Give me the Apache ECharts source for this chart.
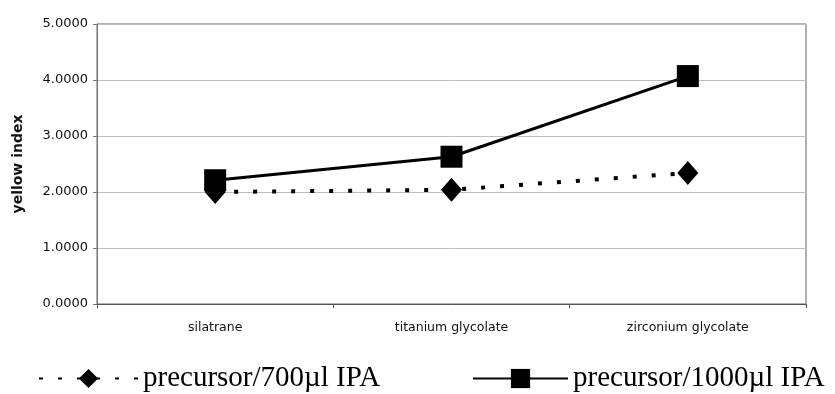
<!DOCTYPE html>
<html>
<head>
<meta charset="utf-8">
<script src="https://cdn.jsdelivr.net/npm/echarts@6/dist/echarts.min.js"></script>
<style>
  html, body { margin: 0; padding: 0; background: #fff; }
  #chart { width: 835px; height: 394px; }
</style>
</head>
<body>
<div id="chart"></div>
<script>
// Precursor types on the x axis
const categories = ['silatrane', 'titanium glycolate', 'zirconium glycolate'];
// Yellow index for each precursor amount
const ipa700 = [2.00, 2.04, 2.34];
const ipa1000 = [2.21, 2.63, 4.07];
const seriesNames = ['precursor/700\u00b5l IPA', 'precursor/1000\u00b5l IPA'];
const yTicks = { min: 0, max: 5, interval: 1 };

const chart = echarts.init(document.getElementById('chart'), null, { renderer: 'canvas' });

const legendText = { fontFamily: 'Liberation Serif', fontSize: 29, color: '#000' };

chart.setOption({
  animation: false,
  backgroundColor: '#fff',
  grid: {
    left: 97, right: 29, top: 24, bottom: 90,
    show: true, borderColor: '#666', borderWidth: 1
  },
  legend: [
    {
      data: [seriesNames[0]], left: 38, top: 364,
      itemWidth: 99, itemHeight: 24, itemGap: 0,
      textStyle: legendText, padding: 0
    },
    {
      data: [seriesNames[1]], left: 472, top: 364,
      itemWidth: 95, itemHeight: 24, itemGap: 0,
      textStyle: legendText, padding: 0
    }
  ],
  xAxis: {
    type: 'category',
    data: categories,
    boundaryGap: true,
    axisLine: { show: true, lineStyle: { color: '#555', width: 1 } },
    axisTick: { show: true, length: 4, lineStyle: { color: '#555' } },
    axisLabel: { fontFamily: 'DejaVu Sans', fontSize: 12.5, color: '#111', margin: 17 },
    splitLine: { show: false }
  },
  yAxis: {
    type: 'value',
    min: yTicks.min, max: yTicks.max, interval: yTicks.interval,
    name: 'yellow index',
    nameLocation: 'middle',
    nameGap: 72,
    nameRotate: 90,
    nameTextStyle: { fontFamily: 'DejaVu Sans', fontSize: 14, fontWeight: 'bold', color: '#111' },
    axisLine: { show: true, lineStyle: { color: '#777', width: 1 } },
    axisTick: { show: true, length: 4, lineStyle: { color: '#777' } },
    axisLabel: {
      fontFamily: 'DejaVu Sans', fontSize: 13, color: '#111', margin: 9,
      formatter: v => v.toFixed(4)
    },
    splitLine: { show: true, lineStyle: { color: '#bdbdbd', width: 1 } }
  },
  series: [
    {
      name: seriesNames[0],
      type: 'line',
      data: ipa700,
      symbol: 'diamond',
      symbolSize: [21, 24],
      z: 3,
      itemStyle: { color: '#000' },
      lineStyle: { color: '#000', width: 4, type: [4, 15], cap: 'butt' }
    },
    {
      name: seriesNames[1],
      type: 'line',
      data: ipa1000,
      symbol: 'rect',
      symbolSize: 22,
      z: 4,
      itemStyle: { color: '#000' },
      lineStyle: { color: '#000', width: 3, type: 'solid' }
    }
  ]
});
</script>
</body>
</html>
